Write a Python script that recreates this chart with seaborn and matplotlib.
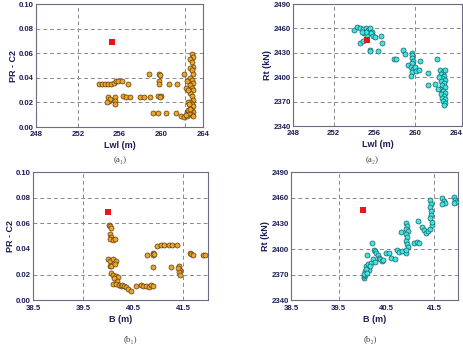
import numpy as np
import pandas as pd
import matplotlib
matplotlib.use('Agg')
import matplotlib.pyplot as plt
import seaborn as sns
from matplotlib.ticker import MultipleLocator, FormatStrFormatter

# ---- DATA ----
# (a1) Lwl vs PR-C2
a1_lwl = [254.0, 254.3, 254.6, 254.9, 255.2, 255.5, 255.7, 255.9, 256.2, 256.8,
          254.9, 255.0, 255.1, 254.8, 255.6, 255.6, 255.6, 256.3, 256.6, 257.0,
          258.0, 258.3, 258.9, 259.7, 260.0, 259.9,
          258.8, 259.8, 259.9, 262.2, 259.8, 259.8, 260.7, 261.5,
          259.2, 259.7, 260.5, 261.4, 261.9, 262.2, 262.5,
          262.9, 263.0, 262.8, 262.9, 263.0, 262.8, 262.9, 263.0, 262.8, 262.9,
          263.0, 262.8, 262.9, 263.0, 262.8, 262.9, 263.0, 262.8, 262.9, 263.0,
          262.8, 262.9, 263.0, 262.8, 262.9, 263.0,
          262.5, 262.6, 262.7, 262.4, 262.6, 262.8, 262.4, 262.5, 262.6, 262.7, 262.6]
a1_pr = [0.035, 0.035, 0.035, 0.035, 0.035, 0.036, 0.037, 0.037, 0.037, 0.035,
         0.024, 0.021, 0.023, 0.020, 0.024, 0.021, 0.019, 0.025, 0.024, 0.024,
         0.024, 0.024, 0.024, 0.025, 0.025, 0.024,
         0.043, 0.043, 0.042, 0.043, 0.037, 0.035, 0.035, 0.035,
         0.011, 0.011, 0.011, 0.011, 0.009, 0.008, 0.009,
         0.059, 0.057, 0.055, 0.053, 0.049, 0.048, 0.046, 0.043, 0.040, 0.038,
         0.036, 0.034, 0.032, 0.030, 0.028, 0.025, 0.022, 0.020, 0.019, 0.017,
         0.015, 0.013, 0.012, 0.011, 0.010, 0.009,
         0.012, 0.013, 0.011, 0.010, 0.014, 0.015, 0.032, 0.037, 0.020, 0.019, 0.030]

# (a2) Lwl vs Rt
a2_lwl = [254.0, 254.3, 254.6, 254.9, 255.2, 255.4, 255.6, 255.8, 255.0, 255.3,
          255.7, 255.9, 254.6, 254.9, 255.6, 255.6, 256.1, 256.6, 256.7, 256.3,
          255.2, 254.8,
          257.9, 258.1, 258.8, 259.0, 259.3, 259.7, 259.7, 259.7, 259.8, 259.7,
          259.6, 259.8, 259.7, 259.6, 260.0, 260.1, 260.5, 260.4,
          261.3, 261.3, 261.9, 262.1,
          262.4, 262.7, 262.9, 262.5, 262.8, 262.6, 262.9, 262.5, 262.8, 262.6,
          262.9, 262.4, 262.7, 262.9, 262.5, 262.8, 262.6, 262.9, 262.7, 262.9,
          262.8, 262.3, 262.2]
a2_rt = [2458, 2462, 2460, 2459, 2461, 2458, 2460, 2456, 2454, 2452,
         2454, 2451, 2442, 2444, 2434, 2432, 2450, 2451, 2442, 2432,
         2456, 2456,
         2422, 2423, 2434, 2428, 2415, 2430, 2427, 2424, 2420, 2417,
         2413, 2410, 2406, 2401, 2412, 2408, 2420, 2409,
         2405, 2390, 2392, 2423,
         2409, 2407, 2409, 2404, 2402, 2399, 2397, 2395, 2393, 2390,
         2388, 2385, 2383, 2381, 2379, 2377, 2375, 2373, 2371, 2368,
         2366, 2400, 2385]

# (b1) B vs PR-C2
b1_b = [40.02, 40.04, 40.06, 40.05, 40.07, 40.05, 40.10, 40.13,
        40.01, 40.04, 40.10, 40.15, 40.04, 40.07, 40.13,
        40.06, 40.10, 40.16, 40.20, 40.18, 40.12,
        40.10, 40.16, 40.22, 40.25, 40.28, 40.32, 40.36, 40.40, 40.45,
        40.55, 40.65, 40.70, 40.76, 40.82, 40.85, 40.90,
        40.78, 40.89, 40.90, 40.92, 40.90,
        40.97, 41.05, 41.12, 41.22, 41.28, 41.38,
        41.25, 41.42, 41.43, 41.41, 41.44, 41.40,
        41.63, 41.66, 41.70, 41.90, 41.93]
b1_pr = [0.059, 0.058, 0.056, 0.052, 0.049, 0.048, 0.047, 0.048,
         0.032, 0.031, 0.032, 0.031, 0.027, 0.027, 0.028,
         0.021, 0.020, 0.019, 0.018, 0.015, 0.017,
         0.013, 0.013, 0.012, 0.011, 0.012, 0.011, 0.010, 0.009, 0.0075,
         0.011, 0.012, 0.011, 0.011, 0.010, 0.012, 0.011,
         0.035, 0.037, 0.035, 0.036, 0.026,
         0.042, 0.043, 0.043, 0.043, 0.043, 0.043,
         0.026, 0.027, 0.024, 0.022, 0.020, 0.025,
         0.037, 0.036, 0.035, 0.035, 0.035]

# (b2) B vs Rt
b2_b = [40.02, 40.04, 40.06, 40.08, 40.10, 40.12, 40.05, 40.08, 40.11, 40.13,
        40.03, 40.07, 40.10, 40.09, 40.20, 40.23, 40.26, 40.29, 40.32, 40.34,
        40.37, 40.40, 40.43, 40.18, 40.22, 40.26, 40.15,
        40.50, 40.55, 40.60, 40.68, 40.72, 40.76, 40.83, 40.90,
        40.92, 40.94, 40.91, 40.95, 40.92, 40.94, 40.91, 40.93, 40.95, 40.92,
        40.80, 41.08, 41.14, 41.18, 41.17,
        41.25, 41.29, 41.33, 41.37, 41.42, 41.45, 41.46,
        41.42, 41.43, 41.41, 41.44, 41.43, 41.42,
        41.67, 41.70, 41.73, 41.66,
        41.92, 41.94, 41.96, 41.91]
b2_rt = [2366, 2368, 2370, 2373, 2376, 2378, 2374, 2380, 2382, 2375,
         2371, 2377, 2372, 2393, 2407, 2399, 2398, 2396, 2393, 2390,
         2388, 2386, 2387, 2384, 2388, 2385, 2380,
         2395, 2396, 2390, 2388, 2399, 2397, 2398, 2396,
         2430, 2427, 2424, 2421, 2418, 2414, 2410, 2406, 2402, 2399,
         2420, 2407, 2408, 2407, 2433,
         2426, 2422, 2419, 2421, 2424, 2428, 2432,
         2457, 2453, 2449, 2445, 2440, 2436,
         2460, 2456, 2454, 2453,
         2461, 2458, 2455, 2454]

# initial design (red square)
init_lwl = [255.3]
init_b = [40.0]
init_pr = [0.069]
init_rt = [2446]

# ---- STYLE ----
sns.set_style("white")
plt.rcParams['font.family'] = ['Liberation Sans', 'DejaVu Sans']

SPINE = '#6c6c86'
TXT = '#1c1c58'
ORANGE = '#eca52c'
ORANGE_EDGE = '#5a3a08'
CYAN = '#3ee6e2'
CYAN_EDGE = '#1c5c62'
RED = '#e8141e'

fig = plt.figure(figsize=(4.64, 3.54), dpi=100)

ax_a1 = fig.add_axes([0.0776, 0.6412, 0.3599, 0.3475])
ax_a2 = fig.add_axes([0.6315, 0.6440, 0.3642, 0.3447])
ax_b1 = fig.add_axes([0.0711, 0.1517, 0.3772, 0.3624])
ax_b2 = fig.add_axes([0.6272, 0.1517, 0.3599, 0.3616])


def style_axis(ax, xlim, ylim, xmaj, xoff, ymaj, yfmt, xfmt, xminor, yminor, xlabel, ylabel):
    ax.set_xlim(*xlim)
    ax.set_ylim(*ylim)
    ax.xaxis.set_major_locator(MultipleLocator(xmaj, offset=xoff))
    ax.yaxis.set_major_locator(MultipleLocator(ymaj))
    ax.xaxis.set_major_formatter(FormatStrFormatter(xfmt))
    ax.yaxis.set_major_formatter(FormatStrFormatter(yfmt))
    if xminor:
        ax.xaxis.set_minor_locator(MultipleLocator(xminor))
    if yminor:
        ax.yaxis.set_minor_locator(MultipleLocator(yminor))
    ax.tick_params(which='major', direction='in', length=3, width=0.7, color=SPINE,
                   labelsize=5.6, labelcolor=TXT, pad=1.5)
    ax.tick_params(axis='x', which='major', pad=3.2)
    ax.tick_params(which='minor', direction='in', length=2, width=0.6, color=SPINE)
    for lab in ax.get_xticklabels() + ax.get_yticklabels():
        lab.set_fontweight('bold')
    for s in ax.spines.values():
        s.set_color(SPINE)
        s.set_linewidth(0.8)
    ax.set_xlabel(xlabel, fontsize=6.5, color=TXT, fontweight='bold', labelpad=2)
    ax.set_ylabel(ylabel, fontsize=6.5, color=TXT, fontweight='bold', labelpad=1)
    ax.grid(False)


def dashed(ax, xs, ys):
    for x in xs:
        ax.axvline(x, color='#8a8a8a', linestyle=(0, (4, 3)), linewidth=0.7, zorder=1)
    for y in ys:
        ax.axhline(y, color='#8a8a8a', linestyle=(0, (4, 3)), linewidth=0.7, zorder=1)


def points(ax, x, y, fc, ec):
    sns.scatterplot(x=x, y=y, ax=ax, color=fc, edgecolor=ec, linewidth=0.5,
                    s=13, zorder=3, legend=False)


def start(ax, x, y):
    sns.scatterplot(x=x, y=y, ax=ax, marker='s', color=RED, edgecolor=RED,
                    linewidth=0, s=14, zorder=4, legend=False)


# (a1)
dashed(ax_a1, [252, 262.3], [0.02, 0.04, 0.06, 0.08])
points(ax_a1, a1_lwl, a1_pr, ORANGE, ORANGE_EDGE)
start(ax_a1, init_lwl, init_pr)
style_axis(ax_a1, (248, 264), (0, 0.10), 4, 0, 0.02, '%.2f', '%d', 2, 0.01, 'Lwl (m)', 'PR - C2')

# (a2)
dashed(ax_a2, [252, 260], [2370, 2400, 2430, 2460])
points(ax_a2, a2_lwl, a2_rt, CYAN, CYAN_EDGE)
start(ax_a2, init_lwl, init_rt)
style_axis(ax_a2, (248, 264.6), (2340, 2490), 4, 0, 30, '%d', '%d', 2, 15, 'Lwl (m)', 'Rt (kN)')

# (b1)
dashed(ax_b1, [39.5, 41.5], [0.02, 0.06, 0.08])
points(ax_b1, b1_b, b1_pr, ORANGE, ORANGE_EDGE)
start(ax_b1, init_b, init_pr)
style_axis(ax_b1, (38.5, 42.0), (0, 0.10), 1, 0.5, 0.02, '%.2f', '%.1f', 0.5, None, 'B (m)', 'PR - C2')

# (b2)
dashed(ax_b2, [39.5, 41.5], [2370, 2400, 2460])
points(ax_b2, b2_b, b2_rt, CYAN, CYAN_EDGE)
start(ax_b2, init_b, init_rt)
style_axis(ax_b2, (38.5, 42.0), (2340, 2490), 1, 0.5, 30, '%d', '%.1f', 0.5, 15, 'B (m)', 'Rt (kN)')

# captions
cap = dict(fontsize=6.5, color='#444444', ha='center', va='center',
           family=['Liberation Serif', 'DejaVu Serif'])
fig.text(120 / 464, 1 - 160 / 354, '(a\u2081)', **cap)
fig.text(372 / 464, 1 - 160 / 354, '(a\u2082)', **cap)
fig.text(130 / 464, 1 - 340 / 354, '(b\u2081)', **cap)
fig.text(370 / 464, 1 - 340 / 354, '(b\u2082)', **cap)

fig.savefig('out.png', dpi=100)
